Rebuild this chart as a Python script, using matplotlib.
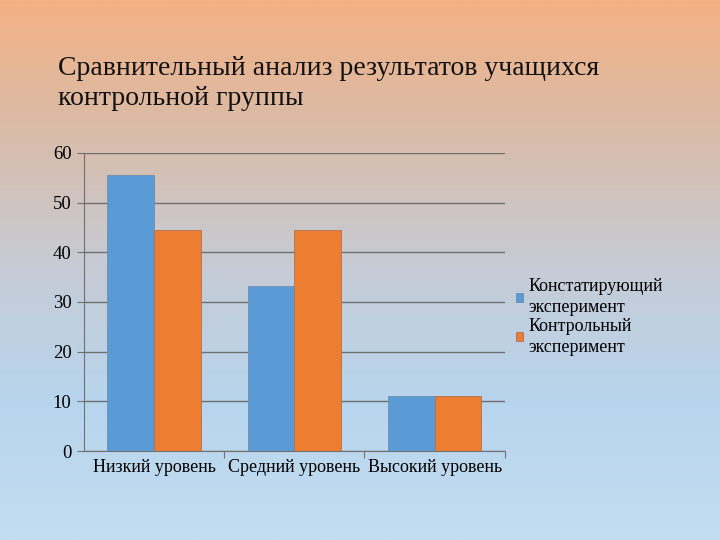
import numpy as np
import matplotlib.pyplot as plt
from matplotlib.colors import LinearSegmentedColormap

categories = ["Низкий уровень", "Средний уровень", "Высокий уровень"]
series_names = ["Констатирующий\nэксперимент", "Контрольный\nэксперимент"]
ascertaining = [55.6, 33.3, 11.1]
control = [44.4, 44.4, 11.1]
colors = ["#5B9BD5", "#ED7D31"]

plt.rcParams['font.family'] = ['Liberation Serif', 'DejaVu Serif']

fig = plt.figure(figsize=(7.2, 5.4), dpi=100)

# background gradient
bg = fig.add_axes([0, 0, 1, 1], zorder=-10)
grad = np.linspace(0, 1, 256).reshape(-1, 1)
cmap = LinearSegmentedColormap.from_list(
    "bg", ["#F4B183", "#D8BCAA", "#C6CCD6", "#B7D5EE", "#C4DDF0"])
bg.imshow(grad, aspect="auto", cmap=cmap, extent=[0, 1, 0, 1])
bg.axis("off")

fig.text(0.08, 0.845, "Сравнительный анализ результатов учащихся\nконтрольной группы",
         fontsize=20, va="center", ha="left", linespacing=1.25, color="#111111")

ax = fig.add_axes([0.1167, 0.1648, 0.5843, 0.552])
ax.patch.set_alpha(0)
x = np.arange(len(categories))
w = 1 / 3
ax.bar(x - w / 2, ascertaining, w, color=colors[0], edgecolor="#6E8FB0", linewidth=0.6,
       label=series_names[0], zorder=3)
ax.bar(x + w / 2, control, w, color=colors[1], edgecolor="#B07050", linewidth=0.6,
       label=series_names[1], zorder=3)

ax.set_xlim(-0.5, 2.5)
ax.set_ylim(0, 60)
ax.set_yticks(range(0, 61, 10))
ax.yaxis.grid(True, color="#707070", linewidth=1)
ax.set_axisbelow(True)
ax.set_xticks([0.5, 1.5, 2.5])
ax.set_xticklabels([])
ax.set_xticks(x, minor=True)
ax.set_xticklabels(categories, minor=True)
ax.tick_params(axis="x", which="minor", length=0, labelsize=13, pad=6)
ax.tick_params(axis="x", which="major", length=5, color="#707070")
ax.tick_params(axis="y", length=5, color="#707070", labelsize=13.5, pad=4)
for s in ["top", "right"]:
    ax.spines[s].set_visible(False)
for s in ["left", "bottom"]:
    ax.spines[s].set_color("#707070")

leg = ax.legend(loc="center left", bbox_to_anchor=(1.0, 0.45), frameon=False,
                fontsize=13, handlelength=0.4, handleheight=0.4,
                handletextpad=0.3, labelspacing=0.1, borderaxespad=0.2)
for t in leg.get_texts():
    t.set_linespacing(1.3)

fig.savefig("out.png", dpi=100)
